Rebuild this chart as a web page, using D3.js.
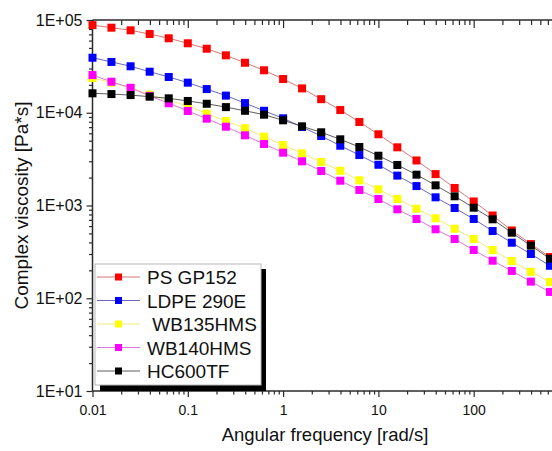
<!DOCTYPE html>
<html>
<head>
<meta charset="utf-8">
<script src="https://cdn.jsdelivr.net/npm/d3@7"></script>
<style>
  html, body { margin: 0; padding: 0; background: #fff; }
  svg { display: block; font-family: "Liberation Sans", Arial, sans-serif; }
</style>
</head>
<body>
<div id="chart"></div>
<script>
// angular frequency [rad/s], 5 points per decade
const frequency = [0.01, 0.0158, 0.0251, 0.0398, 0.0631, 0.1, 0.158, 0.251, 0.398, 0.631,
                   1, 1.58, 2.51, 3.98, 6.31, 10, 15.8, 25.1, 39.8, 63.1, 100, 158, 251, 398, 631];

// complex viscosity [Pa*s]
const psGP152 = [88000, 82600, 77400, 70600, 63500, 56100, 49000, 41600, 34600, 28700,
                 23100, 18300, 14000, 10700, 7950, 5860, 4240, 3060, 2180, 1545,
                 1105, 780, 538, 384, 278];
const ldpe290E = [39200, 35300, 31700, 27700, 24300, 21100, 18000, 15300, 12700, 10500,
                  8710, 7020, 5615, 4410, 3500, 2750, 2100, 1620, 1225, 940,
                  715, 531, 397, 300, 224];
const wb135HMS = [23700, 21200, 18500, 15700, 13550, 11900, 9770, 8150, 6800, 5520,
                  4490, 3655, 2945, 2370, 1870, 1495, 1175, 924, 728, 562,
                  435, 331, 252, 193, 150];
const wb140HMS = [25500, 21600, 18600, 15200, 12650, 10450, 8630, 7070, 5710, 4605,
                  3710, 2995, 2355, 1850, 1470, 1175, 910, 715, 554, 435,
                  331, 254, 197, 151, 117];
const hc600TF = [16200, 15900, 15500, 14900, 14300, 13400, 12500, 11500, 10500, 9530,
                 8290, 7140, 6155, 5170, 4270, 3440, 2735, 2150, 1650, 1257,
                 947, 710, 509, 369, 267];

const seriesNames = ["PS GP152", "LDPE 290E", " WB135HMS", "WB140HMS", "HC600TF"];
const seriesColors = ["#ff0000", "#0000ff", "#ffff00", "#ff00ff", "#000000"];
const lineColors = ["#d05050", "#4040b0", "#ece650", "#d850d8", "#333333"];

const xTicks = [0.01, 0.1, 1, 10, 100];
const xTickLabels = ["0.01", "0.1", "1", "10", "100"];
const yTicks = [10, 100, 1000, 10000, 100000];
const yTickLabels = ["1E+01", "1E+02", "1E+03", "1E+04", "1E+05"];

document.addEventListener("DOMContentLoaded", () => {
    const width = 552, height = 451;
    const plot = { left: 92.5, right: 569, top: 20, bottom: 391 };

    const allSeries = [psGP152, ldpe290E, wb135HMS, wb140HMS, hc600TF].map((vals, i) => ({
        name: seriesNames[i],
        color: seriesColors[i],
        lineColor: lineColors[i],
        points: vals.map((v, j) => ({ x: frequency[j], y: v }))
    }));

    const svg = d3.select("#chart").append("svg")
        .attr("width", width)
        .attr("height", height);

    const x = d3.scaleLog().domain([0.01, 1000]).range([plot.left, plot.right]);
    const y = d3.scaleLog().domain([10, 100000]).range([plot.bottom, plot.top]);

    // minor tick positions 2..9 in every decade
    const minorX = [], minorY = [];
    for (let e = -2; e < 3; e++) for (let m = 2; m < 10; m++) minorX.push(m * Math.pow(10, e));
    for (let e = 1; e < 5; e++) for (let m = 2; m < 10; m++) minorY.push(m * Math.pow(10, e));

    const axisColor = "#2a2a2a";

    function styleAxis(g) {
        g.select(".domain").remove();
        g.selectAll(".tick line").attr("stroke", axisColor).attr("stroke-width", 1.2);
        g.selectAll(".tick text").attr("fill", "#111");
    }

    // bottom axis
    svg.append("g")
        .attr("transform", `translate(0,${plot.bottom})`)
        .call(d3.axisBottom(x).tickValues(minorX).tickSize(3.5).tickFormat(""))
        .call(styleAxis);
    svg.append("g")
        .attr("transform", `translate(0,${plot.bottom})`)
        .call(d3.axisBottom(x).tickValues(xTicks).tickSize(6).tickPadding(8)
            .tickFormat((d, i) => xTickLabels[i]))
        .call(styleAxis)
        .selectAll(".tick text").attr("font-size", 14);

    // top axis, ticks pointing inward
    svg.append("g")
        .attr("transform", `translate(0,${plot.top})`)
        .call(d3.axisTop(x).tickValues(minorX).tickSize(-5).tickFormat(""))
        .call(styleAxis);
    svg.append("g")
        .attr("transform", `translate(0,${plot.top})`)
        .call(d3.axisTop(x).tickValues(xTicks).tickSize(-8).tickFormat(""))
        .call(styleAxis);

    // left axis
    svg.append("g")
        .attr("transform", `translate(${plot.left},0)`)
        .call(d3.axisLeft(y).tickValues(minorY).tickSize(3.5).tickFormat(""))
        .call(styleAxis);
    svg.append("g")
        .attr("transform", `translate(${plot.left},0)`)
        .call(d3.axisLeft(y).tickValues(yTicks).tickSize(6).tickPadding(4)
            .tickFormat((d, i) => yTickLabels[i]))
        .call(styleAxis)
        .selectAll(".tick text").attr("font-size", 16);

    // frame lines
    svg.append("line").attr("x1", plot.left).attr("x2", plot.right)
        .attr("y1", plot.bottom).attr("y2", plot.bottom)
        .attr("stroke", axisColor).attr("stroke-width", 1.5);
    svg.append("line").attr("x1", plot.left).attr("x2", plot.right)
        .attr("y1", plot.top).attr("y2", plot.top)
        .attr("stroke", axisColor).attr("stroke-width", 1.5);
    svg.append("line").attr("x1", plot.left).attr("x2", plot.left)
        .attr("y1", plot.top).attr("y2", plot.bottom)
        .attr("stroke", axisColor).attr("stroke-width", 1.5);

    // series
    const line = d3.line().x(d => x(d.x)).y(d => y(d.y));
    const ms = 8;
    allSeries.forEach(s => {
        const g = svg.append("g");
        g.append("path")
            .datum(s.points)
            .attr("d", line)
            .attr("fill", "none")
            .attr("stroke", s.lineColor)
            .attr("stroke-width", 0.8);
        g.selectAll("rect")
            .data(s.points)
            .enter().append("rect")
            .attr("x", d => x(d.x) - ms / 2)
            .attr("y", d => y(d.y) - ms / 2)
            .attr("width", ms)
            .attr("height", ms)
            .attr("fill", s.color);
    });

    // legend with drop shadow
    const lg = { x: 95, y: 264, w: 166, h: 121 };
    svg.append("rect")
        .attr("x", lg.x + 5).attr("y", lg.y + 5)
        .attr("width", lg.w).attr("height", lg.h + 1)
        .attr("fill", "#000");
    svg.append("rect")
        .attr("x", lg.x).attr("y", lg.y)
        .attr("width", lg.w).attr("height", lg.h)
        .attr("fill", "#fff")
        .attr("stroke", "#b8b8b8")
        .attr("stroke-width", 1);

    const rowY = d3.scaleLinear().domain([0, 4]).range([277, 371]);
    allSeries.forEach((s, i) => {
        const cy = rowY(i);
        svg.append("line")
            .attr("x1", 97).attr("x2", 140)
            .attr("y1", cy).attr("y2", cy)
            .attr("stroke", s.lineColor).attr("stroke-width", 0.8);
        svg.append("rect")
            .attr("x", 118.5 - 3.5).attr("y", cy - 3.5)
            .attr("width", 7).attr("height", 7)
            .attr("fill", s.color);
        svg.append("text")
            .attr("x", 147).attr("y", cy + 7)
            .attr("font-size", 19)
            .attr("fill", "#111")
            .attr("xml:space", "preserve")
            .style("white-space", "pre")
            .text(s.name);
    });

    // axis titles
    svg.append("text")
        .attr("x", 325).attr("y", 441)
        .attr("text-anchor", "middle")
        .attr("font-size", 18.5)
        .attr("fill", "#111")
        .text("Angular frequency [rad/s]");
    svg.append("text")
        .attr("transform", `translate(28,${(plot.top + plot.bottom) / 2}) rotate(-90)`)
        .attr("text-anchor", "middle")
        .attr("font-size", 19)
        .attr("fill", "#111")
        .text("Complex viscosity [Pa*s]");
});
</script>
</body>
</html>
